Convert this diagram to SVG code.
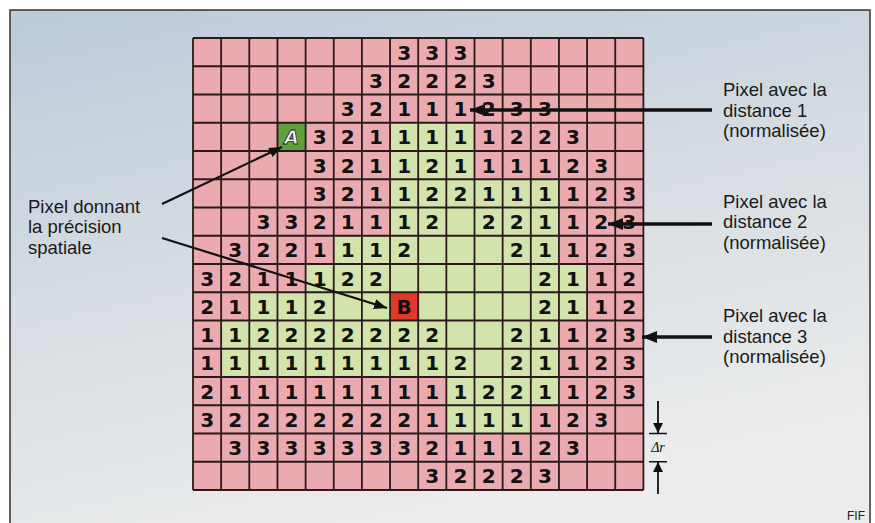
<svg xmlns="http://www.w3.org/2000/svg" width="875" height="523" viewBox="0 0 875 523">
<defs>
<linearGradient id="bg" x1="0" y1="0" x2="0.35" y2="1">
<stop offset="0" stop-color="#bccbd8"/>
<stop offset="0.55" stop-color="#d8dee3"/>
<stop offset="1" stop-color="#ebecec"/>
</linearGradient>
<marker id="ah" markerUnits="userSpaceOnUse" markerWidth="16" markerHeight="14" refX="15" refY="6" orient="auto">
<path d="M0,0 L15,6 L0,12 z" fill="#111"/>
</marker>
<marker id="ahs" markerUnits="userSpaceOnUse" markerWidth="14" markerHeight="12" refX="13" refY="5" orient="auto">
<path d="M0,0 L13,5 L0,10 z" fill="#111"/>
</marker>
<marker id="ahd" markerUnits="userSpaceOnUse" markerWidth="12" markerHeight="12" refX="10" refY="5" orient="auto">
<path d="M0,0 L10,5 L0,10 z" fill="#111"/>
</marker>
</defs>
<style>
.d{font-family:"DejaVu Sans","Liberation Sans",sans-serif;font-weight:bold;font-size:20px;fill:#111;text-anchor:middle}
.lbl{font-family:"Liberation Sans",Arial,sans-serif;font-size:18.5px;fill:#1a1a1a}
.pink{fill:#eaaab0}
.green{fill:#d2e3ab}
.grid{stroke:#2a1a1c;stroke-width:1.8;fill:none}
.arr{stroke:#111;stroke-width:3.5;fill:none}
.arrs{stroke:#111;stroke-width:2.2;fill:none}
</style>
<rect x="10" y="10" width="860" height="530" fill="url(#bg)" stroke="#333" stroke-width="1.5"/>
<g id="grid">
<rect class="pink" x="193" y="38" width="450.4" height="452"/>
<rect class="green" x="390.05" y="122.75" width="84.45" height="56.5"/>
<rect class="green" x="390.05" y="179.25" width="168.9" height="56.5"/>
<rect class="green" x="333.75" y="235.75" width="225.2" height="28.25"/>
<rect class="green" x="305.6" y="264" width="281.5" height="28.25"/>
<rect class="green" x="249.3" y="292.25" width="337.8" height="28.25"/>
<rect class="green" x="221.15" y="320.5" width="337.8" height="56.5"/>
<rect class="green" x="446.35" y="377" width="112.6" height="28.25"/>
<rect class="green" x="446.35" y="405.25" width="84.45" height="28.25"/>
<rect x="277.45" y="122.75" width="28.15" height="28.25" fill="#5f9f3e"/>
<rect x="390.05" y="292.25" width="28.15" height="28.25" fill="#e0392a"/>
<path class="grid" d="M193,38V490M221.15,38V490M249.3,38V490M277.45,38V490M305.6,38V490M333.75,38V490M361.9,38V490M390.05,38V490M418.2,38V490M446.35,38V490M474.5,38V490M502.65,38V490M530.8,38V490M558.95,38V490M587.1,38V490M615.25,38V490M643.4,38V490M193,38H643.4M193,66.25H643.4M193,94.5H643.4M193,122.75H643.4M193,151H643.4M193,179.25H643.4M193,207.5H643.4M193,235.75H643.4M193,264H643.4M193,292.25H643.4M193,320.5H643.4M193,348.75H643.4M193,377H643.4M193,405.25H643.4M193,433.5H643.4M193,461.75H643.4M193,490H643.4"/>
</g>
<g id="digits">
<text class="d" x="404.1" y="59.6">3</text><text class="d" x="432.3" y="59.6">3</text><text class="d" x="460.4" y="59.6">3</text>
<text class="d" x="376" y="87.9">3</text><text class="d" x="404.1" y="87.9">2</text><text class="d" x="432.3" y="87.9">2</text><text class="d" x="460.4" y="87.9">2</text><text class="d" x="488.6" y="87.9">3</text>
<text class="d" x="347.8" y="116.1">3</text><text class="d" x="376" y="116.1">2</text><text class="d" x="404.1" y="116.1">1</text><text class="d" x="432.3" y="116.1">1</text><text class="d" x="460.4" y="116.1">1</text><text class="d" x="488.6" y="116.1">2</text><text class="d" x="516.7" y="116.1">3</text><text class="d" x="544.9" y="116.1">3</text>
<text class="d" x="319.7" y="144.4">3</text><text class="d" x="347.8" y="144.4">2</text><text class="d" x="376" y="144.4">1</text><text class="d" x="404.1" y="144.4">1</text><text class="d" x="432.3" y="144.4">1</text><text class="d" x="460.4" y="144.4">1</text><text class="d" x="488.6" y="144.4">1</text><text class="d" x="516.7" y="144.4">2</text><text class="d" x="544.9" y="144.4">2</text><text class="d" x="573" y="144.4">3</text>
<text class="d" x="319.7" y="172.6">3</text><text class="d" x="347.8" y="172.6">2</text><text class="d" x="376" y="172.6">1</text><text class="d" x="404.1" y="172.6">1</text><text class="d" x="432.3" y="172.6">2</text><text class="d" x="460.4" y="172.6">1</text><text class="d" x="488.6" y="172.6">1</text><text class="d" x="516.7" y="172.6">1</text><text class="d" x="544.9" y="172.6">1</text><text class="d" x="573" y="172.6">2</text><text class="d" x="601.2" y="172.6">3</text>
<text class="d" x="319.7" y="200.9">3</text><text class="d" x="347.8" y="200.9">2</text><text class="d" x="376" y="200.9">1</text><text class="d" x="404.1" y="200.9">1</text><text class="d" x="432.3" y="200.9">2</text><text class="d" x="460.4" y="200.9">2</text><text class="d" x="488.6" y="200.9">1</text><text class="d" x="516.7" y="200.9">1</text><text class="d" x="544.9" y="200.9">1</text><text class="d" x="573" y="200.9">1</text><text class="d" x="601.2" y="200.9">2</text><text class="d" x="629.3" y="200.9">3</text>
<text class="d" x="263.4" y="229.1">3</text><text class="d" x="291.5" y="229.1">3</text><text class="d" x="319.7" y="229.1">2</text><text class="d" x="347.8" y="229.1">1</text><text class="d" x="376" y="229.1">1</text><text class="d" x="404.1" y="229.1">1</text><text class="d" x="432.3" y="229.1">2</text><text class="d" x="488.6" y="229.1">2</text><text class="d" x="516.7" y="229.1">2</text><text class="d" x="544.9" y="229.1">1</text><text class="d" x="573" y="229.1">1</text><text class="d" x="601.2" y="229.1">2</text><text class="d" x="629.3" y="229.1">3</text>
<text class="d" x="235.2" y="257.4">3</text><text class="d" x="263.4" y="257.4">2</text><text class="d" x="291.5" y="257.4">2</text><text class="d" x="319.7" y="257.4">1</text><text class="d" x="347.8" y="257.4">1</text><text class="d" x="376" y="257.4">1</text><text class="d" x="404.1" y="257.4">2</text><text class="d" x="516.7" y="257.4">2</text><text class="d" x="544.9" y="257.4">1</text><text class="d" x="573" y="257.4">1</text><text class="d" x="601.2" y="257.4">2</text><text class="d" x="629.3" y="257.4">3</text>
<text class="d" x="207.1" y="285.6">3</text><text class="d" x="235.2" y="285.6">2</text><text class="d" x="263.4" y="285.6">1</text><text class="d" x="291.5" y="285.6">1</text><text class="d" x="319.7" y="285.6">1</text><text class="d" x="347.8" y="285.6">2</text><text class="d" x="376" y="285.6">2</text><text class="d" x="544.9" y="285.6">2</text><text class="d" x="573" y="285.6">1</text><text class="d" x="601.2" y="285.6">1</text><text class="d" x="629.3" y="285.6">2</text>
<text class="d" x="207.1" y="313.9">2</text><text class="d" x="235.2" y="313.9">1</text><text class="d" x="263.4" y="313.9">1</text><text class="d" x="291.5" y="313.9">1</text><text class="d" x="319.7" y="313.9">2</text><text class="d" x="544.9" y="313.9">2</text><text class="d" x="573" y="313.9">1</text><text class="d" x="601.2" y="313.9">1</text><text class="d" x="629.3" y="313.9">2</text>
<text class="d" x="207.1" y="342.1">1</text><text class="d" x="235.2" y="342.1">1</text><text class="d" x="263.4" y="342.1">2</text><text class="d" x="291.5" y="342.1">2</text><text class="d" x="319.7" y="342.1">2</text><text class="d" x="347.8" y="342.1">2</text><text class="d" x="376" y="342.1">2</text><text class="d" x="404.1" y="342.1">2</text><text class="d" x="432.3" y="342.1">2</text><text class="d" x="516.7" y="342.1">2</text><text class="d" x="544.9" y="342.1">1</text><text class="d" x="573" y="342.1">1</text><text class="d" x="601.2" y="342.1">2</text><text class="d" x="629.3" y="342.1">3</text>
<text class="d" x="207.1" y="370.4">1</text><text class="d" x="235.2" y="370.4">1</text><text class="d" x="263.4" y="370.4">1</text><text class="d" x="291.5" y="370.4">1</text><text class="d" x="319.7" y="370.4">1</text><text class="d" x="347.8" y="370.4">1</text><text class="d" x="376" y="370.4">1</text><text class="d" x="404.1" y="370.4">1</text><text class="d" x="432.3" y="370.4">1</text><text class="d" x="460.4" y="370.4">2</text><text class="d" x="516.7" y="370.4">2</text><text class="d" x="544.9" y="370.4">1</text><text class="d" x="573" y="370.4">1</text><text class="d" x="601.2" y="370.4">2</text><text class="d" x="629.3" y="370.4">3</text>
<text class="d" x="207.1" y="398.6">2</text><text class="d" x="235.2" y="398.6">1</text><text class="d" x="263.4" y="398.6">1</text><text class="d" x="291.5" y="398.6">1</text><text class="d" x="319.7" y="398.6">1</text><text class="d" x="347.8" y="398.6">1</text><text class="d" x="376" y="398.6">1</text><text class="d" x="404.1" y="398.6">1</text><text class="d" x="432.3" y="398.6">1</text><text class="d" x="460.4" y="398.6">1</text><text class="d" x="488.6" y="398.6">2</text><text class="d" x="516.7" y="398.6">2</text><text class="d" x="544.9" y="398.6">1</text><text class="d" x="573" y="398.6">1</text><text class="d" x="601.2" y="398.6">2</text><text class="d" x="629.3" y="398.6">3</text>
<text class="d" x="207.1" y="426.9">3</text><text class="d" x="235.2" y="426.9">2</text><text class="d" x="263.4" y="426.9">2</text><text class="d" x="291.5" y="426.9">2</text><text class="d" x="319.7" y="426.9">2</text><text class="d" x="347.8" y="426.9">2</text><text class="d" x="376" y="426.9">2</text><text class="d" x="404.1" y="426.9">2</text><text class="d" x="432.3" y="426.9">1</text><text class="d" x="460.4" y="426.9">1</text><text class="d" x="488.6" y="426.9">1</text><text class="d" x="516.7" y="426.9">1</text><text class="d" x="544.9" y="426.9">1</text><text class="d" x="573" y="426.9">2</text><text class="d" x="601.2" y="426.9">3</text>
<text class="d" x="235.2" y="455.1">3</text><text class="d" x="263.4" y="455.1">3</text><text class="d" x="291.5" y="455.1">3</text><text class="d" x="319.7" y="455.1">3</text><text class="d" x="347.8" y="455.1">3</text><text class="d" x="376" y="455.1">3</text><text class="d" x="404.1" y="455.1">3</text><text class="d" x="432.3" y="455.1">2</text><text class="d" x="460.4" y="455.1">1</text><text class="d" x="488.6" y="455.1">1</text><text class="d" x="516.7" y="455.1">1</text><text class="d" x="544.9" y="455.1">2</text><text class="d" x="573" y="455.1">3</text>
<text class="d" x="432.3" y="483.4">3</text><text class="d" x="460.4" y="483.4">2</text><text class="d" x="488.6" y="483.4">2</text><text class="d" x="516.7" y="483.4">2</text><text class="d" x="544.9" y="483.4">3</text>
</g>
<g id="pixelA">
<text x="291.5" y="144.4" font-family="'DejaVu Sans',sans-serif" font-weight="bold" font-style="italic" font-size="19" text-anchor="middle" fill="#f4f4f4" stroke="#1a1a1a" stroke-width="0.8">A</text>
</g>
<g id="pixelB">
<text class="d" x="404.1" y="313.9">B</text>
</g>
<g id="connectors">
<line class="arr" x1="712" y1="110" x2="470" y2="110" marker-end="url(#ah)"/>
<line class="arr" x1="712" y1="224" x2="608" y2="224" marker-end="url(#ah)"/>
<line class="arr" x1="712" y1="337" x2="642" y2="337" marker-end="url(#ah)"/>
<line class="arrs" x1="162" y1="204" x2="282" y2="147" marker-end="url(#ahs)"/>
<line class="arrs" x1="162" y1="238" x2="387" y2="308" marker-end="url(#ahs)"/>
<line stroke="#111" stroke-width="1.8" x1="658" y1="401" x2="658" y2="433" marker-end="url(#ahd)"/>
<line stroke="#111" stroke-width="1.8" x1="658" y1="494" x2="658" y2="462" marker-end="url(#ahd)"/>
<line stroke="#111" stroke-width="1.5" x1="649" y1="433.5" x2="667" y2="433.5"/>
<line stroke="#111" stroke-width="1.5" x1="649" y1="461.75" x2="667" y2="461.75"/>
</g>
<g id="labels">
<text class="lbl" x="723" y="96">Pixel avec la</text>
<text class="lbl" x="723" y="116.5">distance 1</text>
<text class="lbl" x="723" y="137">(normalisée)</text>
<text class="lbl" x="723" y="207.5">Pixel avec la</text>
<text class="lbl" x="723" y="228">distance 2</text>
<text class="lbl" x="723" y="248.5">(normalisée)</text>
<text class="lbl" x="723" y="322">Pixel avec la</text>
<text class="lbl" x="723" y="342.5">distance 3</text>
<text class="lbl" x="723" y="363">(normalisée)</text>
<text class="lbl" x="28" y="212.5">Pixel donnant</text>
<text class="lbl" x="28" y="233">la précision</text>
<text class="lbl" x="28" y="253.5">spatiale</text>
<text x="658" y="452" font-family="'Liberation Serif',serif" font-style="italic" font-size="14" text-anchor="middle" fill="#111">Δr</text>
<text x="847" y="520" font-family="'Liberation Sans',sans-serif" font-size="12" fill="#222">FIF</text>
</g>
</svg>
